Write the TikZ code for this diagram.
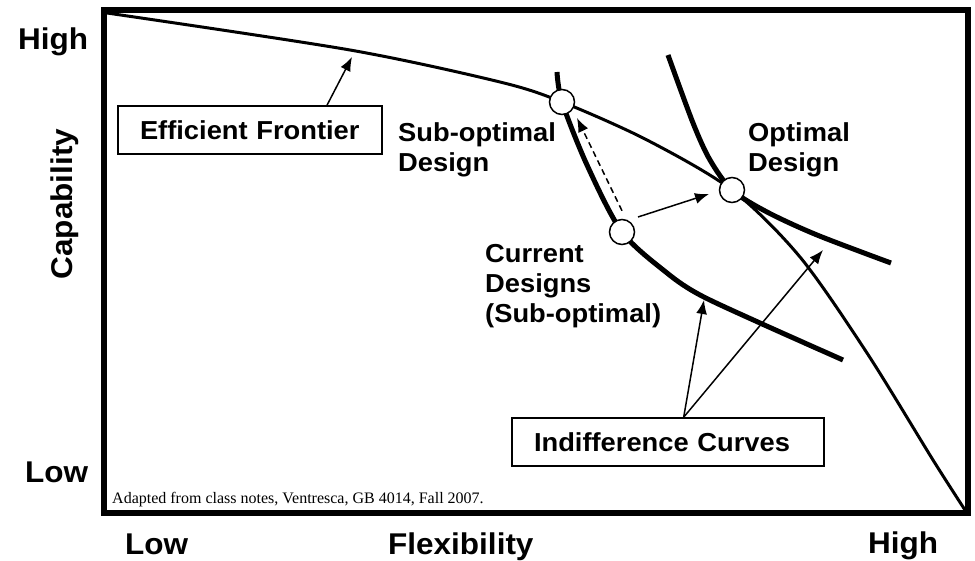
\documentclass[tikz,border=0pt]{standalone}
\usepackage{fontspec}
\setmainfont{Liberation Sans}[FakeStretch=1.05]
\newfontfamily\notefont{Liberation Serif}
\usetikzlibrary{arrows.meta,calc}

\tikzset{
  lbl/.style={font=\bfseries\fontsize{26}{30}\selectfont, align=left, inner sep=0pt},
  axislbl/.style={font=\bfseries\fontsize{30}{34}\selectfont, inner sep=0pt},
  labelbox/.style={draw, line width=1.6pt, font=\bfseries\fontsize{26}{30}\selectfont, align=left, inner xsep=22pt, inner ysep=0pt, minimum height=48pt},
  design/.style={circle, draw, fill=white, line width=1.5pt, minimum size=25pt, inner sep=0pt},
  frontier/.style={line width=3pt},
  indiff/.style={line width=5pt},
  pointer/.style={-{Latex[length=14pt,width=11pt]}, line width=1.5pt},
}

\begin{document}
\begin{tikzpicture}[x=1pt,y=-1pt]
  \useasboundingbox (0,0) rectangle (975,561);
  \draw[line width=6pt] (104,10) rectangle (968,513);

  % curves
  \draw[frontier] plot[smooth] coordinates {(107,13) (350,50) (500,82) (562,102) (647,140) (732,190) (800,257) (867,353) (933,460) (965,510)};
  \draw[indiff] plot[smooth] coordinates {(557,72) (562,102) (587,165) (622,232) (667,273) (700,295) (760,323) (843,360)};
  \draw[indiff] plot[smooth] coordinates {(668,55) (693,123) (710,160) (732,190) (767,212) (817,235) (891,263)};

  \coordinate (effTip) at (352,57);
  \coordinate (indTipA) at (704,300);
  \coordinate (indTipB) at (823,250);

  \node[design] (sub) at (562,102) {};
  \node[design] (cur) at (622,232) {};
  \node[design] (opt) at (732,190) {};

  \node[labelbox, text width=220pt] (effbox) at (250,130) {Efficient Frontier};
  \node[labelbox, text width=268pt] (indbox) at (668,442) {Indifference Curves};

  \node[lbl, anchor=base west] (subtxt) at (398,172) {Sub-optimal\\Design};
  \node[lbl, anchor=base west] (curtxt) at (485,323) {Current\\Designs\\(Sub-optimal)};
  \node[lbl, anchor=base west] (opttxt) at (748,172) {Optimal\\Design};

  % arrows
  \draw[pointer] ($(effbox.north west)!0.79!(effbox.north east)$) -- (effTip);
  \coordinate (indFoot) at ($(indbox.north west)!0.55!(indbox.north east)$);
  \draw[pointer] (indFoot) -- (indTipA);
  \draw[pointer] (indFoot) -- (indTipB);
  \draw[pointer, dash pattern=on 6pt off 4pt] ([yshift=8pt]cur.north) -- ([xshift=15pt,yshift=-16pt]sub.center);
  \draw[pointer] ([xshift=16pt,yshift=15pt]cur.center) -- ([xshift=-23pt,yshift=-4pt]opt.center);

  % axes
  \node[axislbl, anchor=base west] (capHigh) at (18,50) {High};
  \node[axislbl, anchor=base west] (capLow) at (25,482) {Low};
  \node[axislbl, anchor=base, rotate=90] (capName) at (72,204) {Capability};
  \node[axislbl, anchor=base west] (flexLow) at (125,554) {Low};
  \node[axislbl, anchor=base west] (flexName) at (388,554) {Flexibility};
  \node[axislbl, anchor=base west] (flexHigh) at (868,553) {High};

  \node[anchor=base west, inner sep=0pt, font=\notefont\fontsize{16}{18}\selectfont] (note) at (112,503) {Adapted from class notes, Ventresca, GB 4014, Fall 2007.};
\end{tikzpicture}
\end{document}
